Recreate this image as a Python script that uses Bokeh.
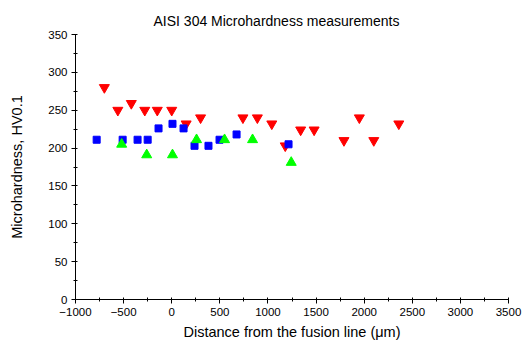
from bokeh.plotting import figure
from bokeh.models import Range1d, SingleIntervalTicker, Title
from bokeh.embed import file_html
from bokeh.resources import INLINE

# Red inverted triangles
red_x = [-700, -560, -420, -280, -150, 0, 150, 300, 740, 890, 1040, 1180, 1340, 1480, 1790, 1950, 2100, 2360]
red_y = [280, 250, 259, 250, 250, 250, 232, 240, 240, 240, 232, 203, 224, 224, 210, 240, 210, 232]

# Blue squares
blue_x = [-780, -510, -355, -250, -137, 8, 123, 237, 382, 497, 674, 1214]
blue_y = [211, 211, 211, 211, 226, 232, 226, 203, 203, 211, 218, 205]

# Green triangles
green_x = [-520, -260, 8, 258, 549, 840, 1242]
green_y = [205, 191, 191, 211, 211, 211, 181]

FONT = "Liberation Sans"

p = figure(width=523, height=342, output_backend="svg", toolbar_location=None,
           x_range=Range1d(-1000, 3500), y_range=Range1d(0, 350),
           min_border_left=75, min_border_right=15, min_border_top=34, min_border_bottom=43)

p.title = Title(text="AISI 304 Microhardness measurements", align="left", offset=78,
                vertical_align="middle",
                text_font=FONT, text_font_size="14px", text_font_style="normal",
                text_color="black")

p.xgrid.visible = False
p.ygrid.visible = False
p.outline_line_color = None

p.xaxis.ticker = SingleIntervalTicker(interval=500, num_minor_ticks=2)
p.yaxis.ticker = SingleIntervalTicker(interval=50, num_minor_ticks=2)

for ax in (p.xaxis[0], p.yaxis[0]):
    ax.axis_line_color = "black"
    ax.major_tick_line_color = "black"
    ax.minor_tick_line_color = "black"
    ax.major_tick_out = 4
    ax.major_tick_in = 0
    ax.minor_tick_out = 2
    ax.minor_tick_in = 2
    ax.major_label_text_font = FONT
    ax.major_label_text_font_size = "11.5px"
    ax.major_label_text_color = "black"
    ax.axis_label_text_font = FONT
    ax.axis_label_text_font_size = "14.5px"
    ax.axis_label_text_font_style = "normal"
    ax.axis_label_text_color = "black"

p.xaxis.axis_label = "Distance from the fusion line (\u03bcm)"
p.yaxis.axis_label = "Microhardness, HV0.1"
p.xaxis.major_label_standoff = 4
p.xaxis.axis_label_standoff = 5
p.yaxis.major_label_standoff = 4
p.yaxis.axis_label_standoff = 20

p.scatter(red_x, red_y, marker="inverted_triangle", size=10, fill_color="#ff0000", line_color="#ff0000")
p.scatter(blue_x, blue_y, marker="square", size=7, fill_color="#0000ff", line_color="#0000ff")
p.scatter(green_x, green_y, marker="triangle", size=10, fill_color="#00ff00", line_color="#00ff00")

open("out.html", "w").write(file_html(p, INLINE))
